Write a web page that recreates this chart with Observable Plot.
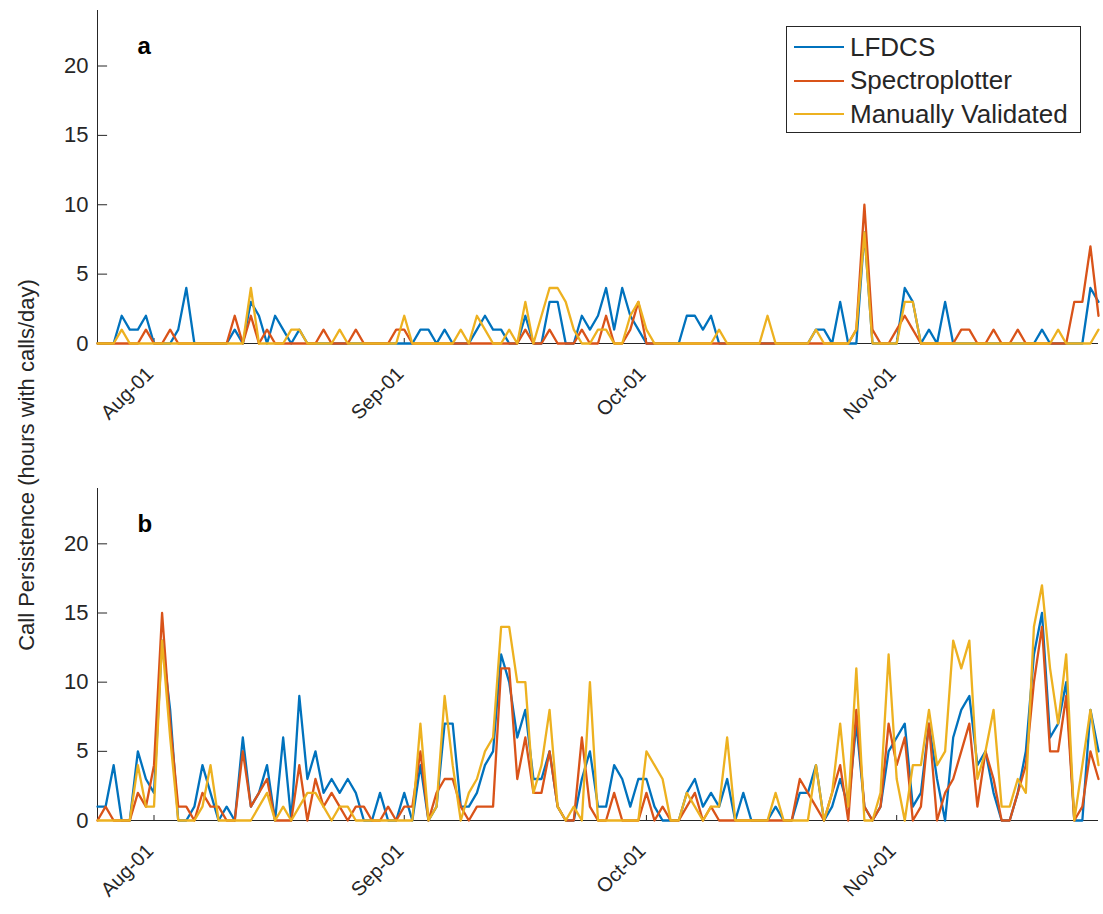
<!DOCTYPE html>
<html>
<head>
<meta charset="utf-8">
<script src="https://cdn.jsdelivr.net/npm/d3@7"></script>
<script src="https://cdn.jsdelivr.net/npm/@observablehq/plot@0.6"></script>
<style>
  html, body { margin: 0; padding: 0; background: #fff; }
  #wrap { position: relative; width: 1103px; height: 914px; font-family: "Liberation Sans", Arial, sans-serif; color: #262626; }
  #pa, #pb { position: absolute; left: 0; }
  #pa { top: 0; }
  #pb { top: 460px; }
  #ylabel { position: absolute; left: 27px; top: 465px; transform: translate(-50%, -50%) rotate(-90deg); white-space: nowrap; font-size: 22px; }
  #legend { position: absolute; left: 786px; top: 26px; width: 293px; height: 105px; border: 1px solid #262626; background: #fff; box-sizing: content-box; }
  .item { position: absolute; left: 7px; height: 30px; display: flex; align-items: center; font-size: 26px; white-space: nowrap; }
  .sw { display: inline-block; width: 50px; height: 0; border-top: 2.5px solid; margin-right: 6px; }
</style>
</head>
<body>
<div id="wrap">
  <div id="pa"></div>
  <div id="pb"></div>
  <div id="ylabel">Call Persistence (hours with calls/day)</div>
  <div id="legend"></div>
</div>
<script>
// ---- data ----
const startDay = "2015-07-25";
const endDay = "2015-11-26";
const monthTicks = ["2015-08-01", "2015-09-01", "2015-10-01", "2015-11-01"];
const monthLabels = ["Aug-01", "Sep-01", "Oct-01", "Nov-01"];
const yTicks = [0, 5, 10, 15, 20];
const seriesNames = ["LFDCS", "Spectroplotter", "Manually Validated"];
const seriesColors = ["#0072BD", "#D95319", "#EDB120"];
const panelLetters = ["a", "b"];

// panel a
const aLFDCS = [
  0,0,0,2,1,1,2,0,0,0,
  1,4,0,0,0,0,0,1,0,3,
  2,0,2,1,0,1,0,0,0,0,
  0,0,0,0,0,0,0,0,0,0,
  1,1,0,1,0,0,0,1,2,1,
  1,0,0,2,0,0,3,3,0,0,
  2,1,2,4,1,4,2,1,0,0,
  0,0,0,2,2,1,2,0,0,0,
  0,0,0,0,0,0,0,0,0,1,
  1,0,3,0,0,8,0,0,0,0,
  4,3,0,1,0,3,0,0,0,0,
  0,0,0,0,0,0,0,1,0,0,
  0,0,0,4,3];
const aSpectro = [
  0,0,0,0,0,0,1,0,0,1,
  0,0,0,0,0,0,0,2,0,2,
  0,1,0,0,0,0,0,0,1,0,
  0,0,1,0,0,0,0,1,1,0,
  0,0,0,0,0,0,0,0,0,0,
  0,0,0,1,0,0,1,0,0,0,
  1,0,0,2,0,0,1,3,0,0,
  0,0,0,0,0,0,0,0,0,0,
  0,0,0,0,0,0,0,0,0,0,
  0,0,0,0,1,10,1,0,0,1,
  2,1,0,0,0,0,0,1,1,0,
  0,1,0,0,1,0,0,0,0,0,
  0,3,3,7,2];
const aManual = [
  0,0,0,1,0,0,0,0,0,0,
  0,0,0,0,0,0,0,0,0,4,
  0,0,0,0,1,1,0,0,0,0,
  1,0,0,0,0,0,0,0,2,0,
  0,0,0,0,0,1,0,2,1,0,
  0,1,0,3,0,2,4,4,3,1,
  0,0,1,1,0,0,2,3,1,0,
  0,0,0,0,0,0,0,1,0,0,
  0,0,0,2,0,0,0,0,0,1,
  0,0,0,0,1,8,0,0,0,0,
  3,3,0,0,0,0,0,0,0,0,
  0,0,0,0,0,0,0,0,0,1,
  0,0,0,0,1];

// panel b
const bLFDCS = [
  1,1,4,0,0,5,3,2,13,8,
  0,0,1,4,2,0,1,0,6,1,
  2,4,0,6,0,9,3,5,2,3,
  2,3,2,0,0,2,0,0,2,0,
  4,0,1,7,7,1,1,2,4,5,
  12,10,6,8,3,3,5,1,0,0,
  3,5,1,1,4,3,1,3,3,1,
  0,0,0,2,3,1,2,1,3,0,
  2,0,0,0,1,0,0,2,2,4,
  0,1,3,1,7,1,0,1,5,6,
  7,1,2,7,3,0,6,8,9,4,
  5,2,0,0,2,5,12,15,6,7,
  10,0,0,8,5];
const bSpectro = [
  0,1,0,0,0,2,1,4,15,7,
  1,1,0,2,1,1,0,0,5,1,
  2,3,0,0,0,4,0,3,1,2,
  1,0,1,1,0,0,1,0,1,1,
  5,0,2,3,3,1,0,1,1,1,
  11,11,3,6,2,2,5,1,0,0,
  6,1,0,0,2,0,0,0,2,0,
  1,0,0,1,2,0,1,0,0,0,
  0,0,0,0,0,0,0,3,2,1,
  0,2,4,0,8,1,0,1,7,4,
  6,0,1,7,0,2,3,5,7,1,
  5,3,0,0,2,4,10,14,5,5,
  9,0,1,5,3];
const bManual = [
  0,0,0,0,0,4,1,1,13,6,
  0,0,0,1,4,0,0,0,0,0,
  1,2,0,1,0,1,2,2,1,0,
  1,1,0,0,0,0,0,0,0,0,
  7,0,1,9,4,0,2,3,5,6,
  14,14,10,10,2,4,8,1,0,1,
  0,10,0,0,0,0,0,0,5,4,
  3,0,0,2,1,0,1,1,6,0,
  0,0,0,0,2,0,0,0,0,4,
  0,2,7,1,11,0,0,2,12,3,
  0,4,4,8,4,5,13,11,13,3,
  5,8,1,1,3,2,14,17,11,7,
  12,0,4,8,4];

// ---- build ----
const axisColor = "#262626";
const start = new Date(startDay);
const end = new Date(endDay);
const days = d3.utcDay.range(start, d3.utcDay.offset(end, 1));
const tickDates = monthTicks.map(d => new Date(d));

function panel(letter, series, height, marginTop, marginBottom) {
  return Plot.plot({
    width: 1103,
    height,
    marginLeft: 97,
    marginRight: 5,
    marginTop,
    marginBottom,
    x: {type: "utc", domain: [start, end], axis: null},
    y: {domain: [0, 24], axis: null},
    style: {fontFamily: "'Liberation Sans', Arial, sans-serif", background: "white", overflow: "visible", color: axisColor},
    marks: [
      Plot.ruleY([0], {stroke: axisColor, strokeWidth: 1}),
      Plot.ruleX([start], {stroke: axisColor, strokeWidth: 1}),
      Plot.ruleY(yTicks, {x1: start, x2: d3.utcHour.offset(start, 30), stroke: axisColor}),
      Plot.ruleX(tickDates, {y1: 0, y2: 0.36, stroke: axisColor}),
      Plot.text(yTicks, {x: start, y: d => d, text: d => String(d), textAnchor: "end", dx: -9, fontSize: 22, fill: axisColor}),
      Plot.text(tickDates, {x: d => d, y: 0, text: (d, i) => monthLabels[i], rotate: -45, textAnchor: "end", dx: -4, dy: 27, fontSize: 20, fill: axisColor}),
      ...series.map((vals, k) => Plot.lineY(vals, {x: days, stroke: seriesColors[k], strokeWidth: 2.3})),
      Plot.text([letter], {frameAnchor: "top-left", dx: 40, dy: 26, fontWeight: "bold", fontSize: 24, fill: "#000"})
    ]
  });
}

document.getElementById("pa").append(panel(panelLetters[0], [aLFDCS, aSpectro, aManual], 460, 10, 117));
document.getElementById("pb").append(panel(panelLetters[1], [bLFDCS, bSpectro, bManual], 454, 28, 94));

const legend = document.getElementById("legend");
seriesNames.forEach((name, k) => {
  const row = document.createElement("div");
  row.className = "item";
  row.style.top = (5 + k * 33.5) + "px";
  const sw = document.createElement("span");
  sw.className = "sw";
  sw.style.borderTopColor = seriesColors[k];
  row.append(sw, document.createTextNode(name));
  legend.append(row);
});
</script>
</body>
</html>
